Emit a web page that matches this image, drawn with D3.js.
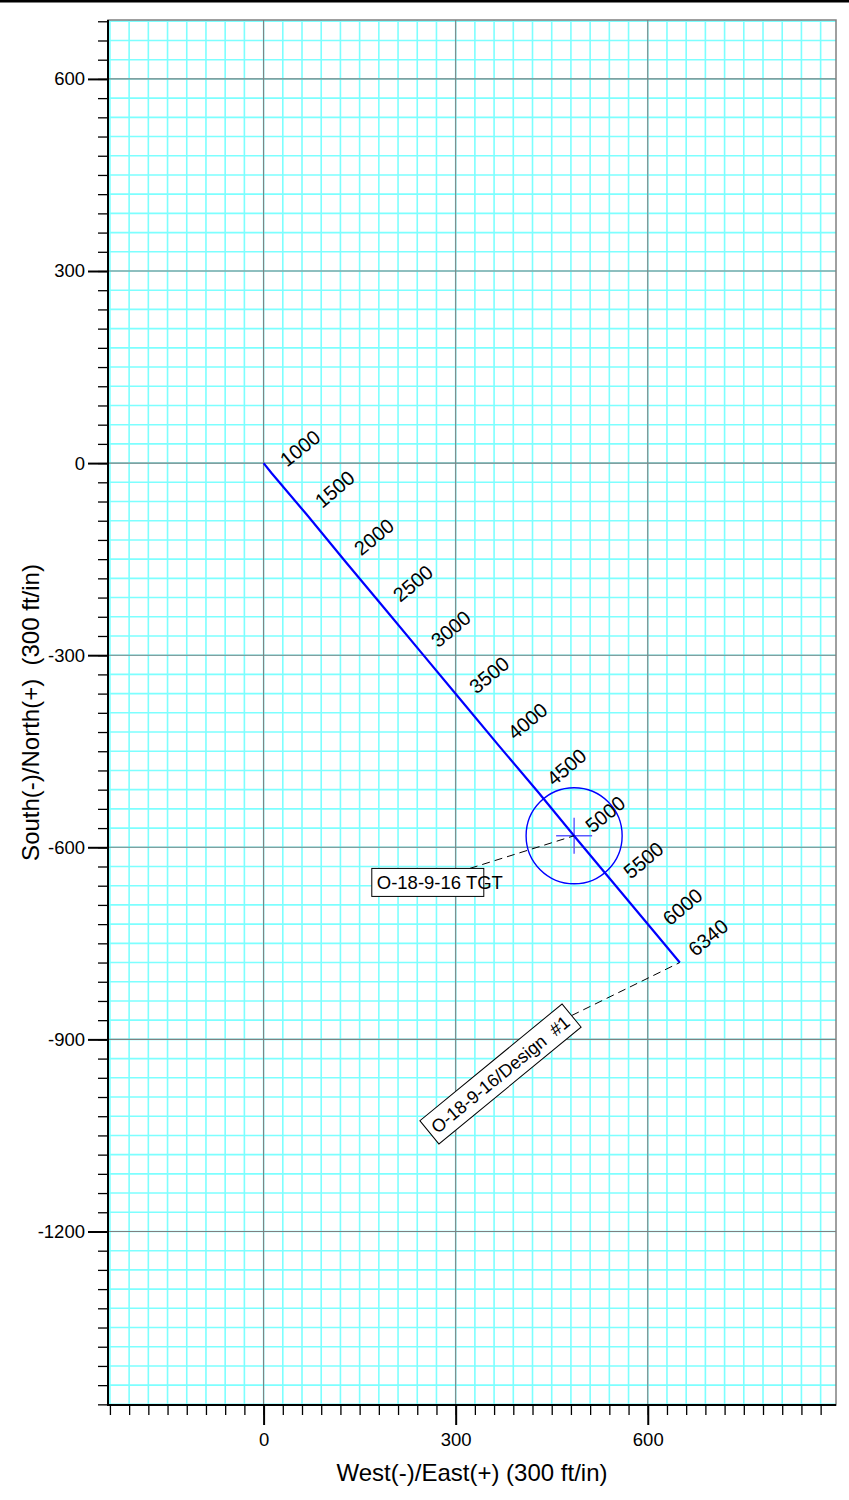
<!DOCTYPE html>
<html>
<head>
<meta charset="utf-8">
<script src="https://cdn.jsdelivr.net/npm/d3@7"></script>
<style>
    body { margin: 0; background: #fff; }
    svg { display: block; font-family: "Liberation Sans", Arial, sans-serif; }
</style>
</head>
<body>
<div id="chart"></div>
<script>
// plan view data, feet
var wellheadE = 0;
var wellheadN = 0;
var stationMD = [1000, 1500, 2000, 2500, 3000, 3500, 4000, 4500, 5000, 5500, 6000, 6340];
var stationE = [12, 67, 128, 189, 248, 308, 368, 429, 489, 549, 610, 650];
var stationN = [-15, -80, -154, -227, -298, -370, -442, -514, -587, -659, -732, -780];

var targetName = "O-18-9-16 TGT";
var targetE = 485;
var targetN = -582;
var targetRadius = 75;

var wellName = "O-18-9-16/Design  #1";

var xMajorTicks = [0, 300, 600];
var yMajorTicks = [600, 300, 0, -300, -600, -900, -1200];
var minorStep = 30;
var xDomain = [-243, 894];
var yDomain = [-1471, 692];

var xTitle = "West(-)/East(+) (300 ft/in)";
var yTitle = "South(-)/North(+)  (300 ft/in)";

var width = 849, height = 1500;
var plot = { left: 108, top: 20, right: 836, bottom: 1405 };

var svg = d3.select("#chart").append("svg")
    .attr("width", width)
    .attr("height", height)
;

var x = d3.scaleLinear().domain(xDomain).range([plot.left, plot.right]);
var y = d3.scaleLinear().domain(yDomain).range([plot.bottom, plot.top]);

var xMinor = d3.range(Math.ceil(xDomain[0] / minorStep) * minorStep, xDomain[1], minorStep);
var yMinor = d3.range(Math.ceil(yDomain[0] / minorStep) * minorStep, yDomain[1], minorStep);
var fmt = function (d) { return String(d); };   // plain hyphen minus

// page border line
svg.append("rect")
    .attr("x", 0).attr("y", 0)
    .attr("width", width).attr("height", 2.5)
    .attr("fill", "#000")
;

// grid
var grid = svg.append("g").attr("class", "grid");
grid.selectAll("line.vminor").data(xMinor).enter().append("line")
    .attr("class", "vminor")
    .attr("x1", function (d) { return x(d); })
    .attr("x2", function (d) { return x(d); })
    .attr("y1", plot.top).attr("y2", plot.bottom)
    .attr("stroke", "#7dffff").attr("stroke-width", 1.6)
;
grid.selectAll("line.hminor").data(yMinor).enter().append("line")
    .attr("class", "hminor")
    .attr("y1", function (d) { return y(d); })
    .attr("y2", function (d) { return y(d); })
    .attr("x1", plot.left).attr("x2", plot.right)
    .attr("stroke", "#7dffff").attr("stroke-width", 1.6)
;
grid.selectAll("line.vmajor").data(xMajorTicks).enter().append("line")
    .attr("class", "vmajor")
    .attr("x1", function (d) { return x(d); })
    .attr("x2", function (d) { return x(d); })
    .attr("y1", plot.top).attr("y2", plot.bottom)
    .attr("stroke", "#808080").attr("stroke-width", 1.1)
;
grid.selectAll("line.hmajor").data(yMajorTicks).enter().append("line")
    .attr("class", "hmajor")
    .attr("y1", function (d) { return y(d); })
    .attr("y2", function (d) { return y(d); })
    .attr("x1", plot.left).attr("x2", plot.right)
    .attr("stroke", "#808080").attr("stroke-width", 1.1)
;

// frame: grey top/right, black axes
svg.append("rect")
    .attr("x", plot.left).attr("y", plot.top)
    .attr("width", plot.right - plot.left).attr("height", plot.bottom - plot.top)
    .attr("fill", "none").attr("stroke", "#808080").attr("stroke-width", 1.5)
;

function styleAxis(g, w) {
    g.select(".domain").remove();
    g.selectAll(".tick line").attr("stroke", "#000").attr("stroke-width", w);
    g.selectAll(".tick text").attr("font-size", "18.5px").attr("fill", "#000")
        .attr("font-family", "Liberation Sans, Arial, sans-serif");
}

svg.append("g")
    .attr("transform", "translate(" + plot.left + ",0)")
    .call(d3.axisLeft(y).tickValues(yMinor).tickSize(10).tickFormat(""))
    .call(styleAxis, 1.3)
;
svg.append("g")
    .attr("transform", "translate(" + plot.left + ",0)")
    .call(d3.axisLeft(y).tickValues(yMajorTicks).tickSize(20).tickPadding(3).tickFormat(fmt))
    .call(styleAxis, 2)
;
svg.append("g")
    .attr("transform", "translate(0," + plot.bottom + ")")
    .call(d3.axisBottom(x).tickValues(xMinor).tickSize(10).tickFormat(""))
    .call(styleAxis, 1.3)
;
svg.append("g")
    .attr("transform", "translate(0," + plot.bottom + ")")
    .call(d3.axisBottom(x).tickValues(xMajorTicks).tickSize(20).tickPadding(8).tickFormat(fmt))
    .call(styleAxis, 2)
;

svg.append("line")
    .attr("x1", plot.left).attr("x2", plot.left)
    .attr("y1", plot.top).attr("y2", plot.bottom + 1)
    .attr("stroke", "#000").attr("stroke-width", 2)
;
svg.append("line")
    .attr("x1", plot.left - 1).attr("x2", plot.right)
    .attr("y1", plot.bottom).attr("y2", plot.bottom)
    .attr("stroke", "#000").attr("stroke-width", 2)
;

// axis titles
svg.append("text")
    .attr("x", (plot.left + plot.right) / 2)
    .attr("y", 1481)
    .attr("text-anchor", "middle")
    .attr("font-size", "24px")
    .text(xTitle)
;
svg.append("text")
    .attr("transform", "translate(39," + ((plot.top + plot.bottom) / 2) + ") rotate(-90)")
    .attr("text-anchor", "middle")
    .attr("font-size", "24px")
    .style("white-space", "pre")
    .text(yTitle)
;

// target circle and cross
var tx = x(targetE), ty = y(targetN);
var tr = x(targetE + targetRadius) - tx;
svg.append("circle")
    .attr("cx", tx).attr("cy", ty).attr("r", tr)
    .attr("fill", "none").attr("stroke", "#0000ff").attr("stroke-width", 1.4)
;
svg.append("path")
    .attr("d", "M" + (tx - 18) + "," + ty + "H" + (tx + 18) + "M" + tx + "," + (ty - 18) + "V" + (ty + 18))
    .attr("stroke", "#5a5aff").attr("stroke-width", 1.4)
;

// wellpath
var pathPts = [[wellheadE, wellheadN]].concat(stationE.map(function (e, i) { return [e, stationN[i]]; }));
var line = d3.line()
    .x(function (d) { return x(d[0]); })
    .y(function (d) { return y(d[1]); })
;
svg.append("path")
    .datum(pathPts)
    .attr("d", line)
    .attr("fill", "none")
    .attr("stroke", "#0000ff")
    .attr("stroke-width", 2.2)
;

// MD labels, perpendicular to the path
var labelOffset = 15.5;
svg.selectAll("text.md").data(stationMD).enter().append("text")
    .attr("class", "md")
    .attr("font-size", "20px")
    .attr("dy", "0.3em")
    .attr("transform", function (d, i) {
        var p0 = pathPts[i], p1 = pathPts[i + 1];
        var ang = Math.atan2(y(p1[1]) - y(p0[1]), x(p1[0]) - x(p0[0])) - Math.PI / 2;
        var px = x(p1[0]) + labelOffset * Math.cos(ang);
        var py = y(p1[1]) + labelOffset * Math.sin(ang);
        return "translate(" + px + "," + py + ") rotate(" + (ang * 180 / Math.PI) + ")";
    })
    .text(function (d) { return d; })
;

// target label with leader
var tgtBox = { x: x(169), y: y(-633), w: 112, h: 28 };
svg.append("line")
    .attr("x1", tgtBox.x + 98).attr("y1", tgtBox.y)
    .attr("x2", tx).attr("y2", ty)
    .attr("stroke", "#000").attr("stroke-width", 1)
    .attr("stroke-dasharray", "8,5")
;
svg.append("rect")
    .attr("x", tgtBox.x).attr("y", tgtBox.y)
    .attr("width", tgtBox.w).attr("height", tgtBox.h)
    .attr("fill", "#fff").attr("stroke", "#000").attr("stroke-width", 1)
;
svg.append("text")
    .attr("x", tgtBox.x + 5).attr("y", tgtBox.y + 21)
    .attr("font-size", "18.5px")
    .text(targetName)
;

// well name label with leader to end of path
var endPt = pathPts[pathPts.length - 1];
var wellBox = { cx: x(370), cy: y(-954), w: 184, h: 30, rot: -39.4 };
var rad = wellBox.rot * Math.PI / 180;
svg.append("line")
    .attr("x1", wellBox.cx + wellBox.w / 2 * Math.cos(rad))
    .attr("y1", wellBox.cy + wellBox.w / 2 * Math.sin(rad))
    .attr("x2", x(endPt[0])).attr("y2", y(endPt[1]))
    .attr("stroke", "#000").attr("stroke-width", 1)
    .attr("stroke-dasharray", "8,5")
;
var wb = svg.append("g")
    .attr("transform", "translate(" + wellBox.cx + "," + wellBox.cy + ") rotate(" + wellBox.rot + ")")
;
wb.append("rect")
    .attr("x", -wellBox.w / 2).attr("y", -wellBox.h / 2)
    .attr("width", wellBox.w).attr("height", wellBox.h)
    .attr("fill", "#fff").attr("stroke", "#000").attr("stroke-width", 1)
;
wb.append("text")
    .attr("x", -wellBox.w / 2 + 5).attr("y", 6.5)
    .attr("font-size", "18px")
    .style("white-space", "pre")
    .text(wellName)
;
</script>
</body>
</html>
